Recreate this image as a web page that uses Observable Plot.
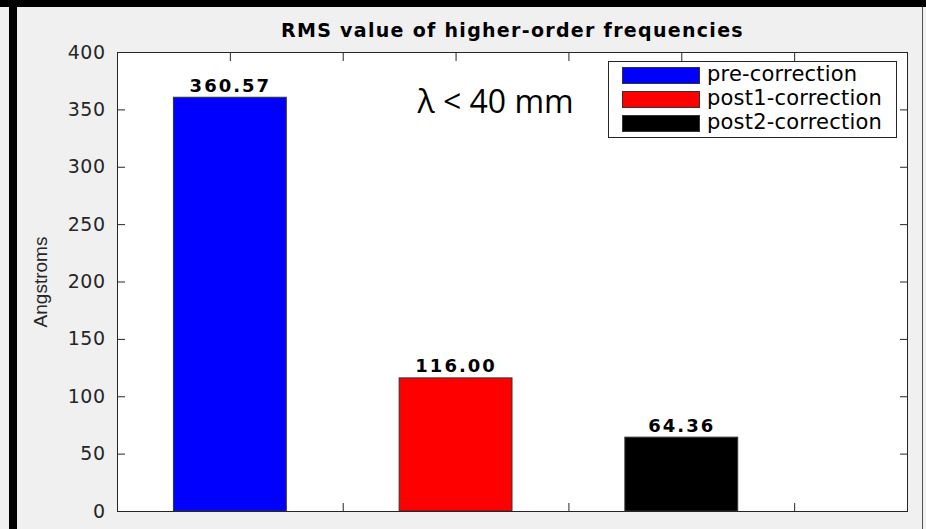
<!DOCTYPE html>
<html>
<head>
<meta charset="utf-8">
<script src="https://cdn.jsdelivr.net/npm/d3@7"></script>
<script src="https://cdn.jsdelivr.net/npm/@observablehq/plot@0.6"></script>
<style>
  html, body { margin: 0; padding: 0; background: #f0f0f0; }
  #wrap { position: relative; width: 926px; height: 529px; overflow: hidden; background: #f0f0f0; }
  #wrap svg { position: absolute; left: 0; top: 0; }
  .bar-top { position: absolute; left: 0; top: 0; width: 926px; height: 7px; background: #000; }
  .bar-left { position: absolute; left: 9px; top: 0; width: 8px; height: 529px; background: #000; }
  .line-right { position: absolute; left: 922px; top: 7px; width: 1px; height: 522px; background: #555; }
  #legend { position: absolute; left: 608px; top: 61px; width: 287px; height: 75px;
            background: #fff; border: 1px solid #262626; }
  #legend .row { position: absolute; left: 0; height: 24px; }
  #legend .sw { position: absolute; left: 13px; top: 0; width: 76px; height: 15px; border: 1px solid #333; }
  #legend .lbl { position: absolute; left: 98px; top: -5px; font-family: "DejaVu Sans", sans-serif;
                 font-size: 21px; color: #000; white-space: nowrap; letter-spacing: 0.2px; }
</style>
</head>
<body>
<div id="wrap"></div>
<script>
// ---- data ----
const categories = ["pre-correction", "post1-correction", "post2-correction"];
const positions = [1, 2, 3];
const values = [360.57, 116.00, 64.36];
const valueLabels = ["360.57", "116.00", "64.36"];
const colors = ["#0000ff", "#ff0000", "#000000"];
const yTicks = [0, 50, 100, 150, 200, 250, 300, 350, 400];
const xTicks = [1, 1.5, 2, 2.5, 3, 3.5];
const titleText = "RMS value of higher-order frequencies";
const yLabel = "Angstroms";
const annotation = "λ < 40 mm";

const rows = categories.map((c, i) => ({
  name: c, x: positions[i], value: values[i], label: valueLabels[i], color: colors[i]
}));
const halfWidth = 0.25;

const axisColor = "#262626";

const plot = Plot.plot({
  width: 926,
  height: 529,
  marginLeft: 117,
  marginRight: 19,
  marginTop: 52,
  marginBottom: 18,
  style: { background: "#f0f0f0", overflow: "visible" },
  x: { type: "linear", domain: [0.5, 4] },
  y: { domain: [0, 400] },
  marks: [
    Plot.frame({ fill: "white", stroke: null }),
    // inward ticks on all four sides
    Plot.axisY(yTicks, { anchor: "left", tickSize: 8, dx: 8, text: null, stroke: axisColor, label: null }),
    Plot.axisY(yTicks, { anchor: "right", tickSize: 8, dx: -8, text: null, stroke: axisColor, label: null }),
    Plot.axisX(xTicks, { anchor: "bottom", tickSize: 8, dy: -8, text: null, stroke: axisColor, label: null }),
    Plot.axisX(xTicks, { anchor: "top", tickSize: 8, dy: 8, text: null, stroke: axisColor, label: null }),
    // y tick labels
    Plot.axisY(yTicks, {
      anchor: "left", tickSize: 0, tickPadding: 12, label: null,
      fill: axisColor, fontSize: 19, fontFamily: "DejaVu Sans", tickFormat: d => String(d)
    }),
    // bars
    Plot.rectY(rows, {
      x1: d => d.x - halfWidth, x2: d => d.x + halfWidth, y1: 0, y2: "value",
      fill: "color", stroke: "#333", strokeWidth: 1
    }),
    // value labels
    Plot.text(rows, {
      x: "x", y: "value", text: "label", lineAnchor: "bottom", dy: -6,
      fontSize: 18, fontWeight: "bold", fontFamily: "DejaVu Sans", fill: "#000"
    }),
    Plot.frame({ stroke: axisColor, strokeWidth: 1 }),
    // title
    Plot.text([titleText], {
      frameAnchor: "top", lineAnchor: "bottom", dy: -16, text: d => d,
      fontSize: 19, fontWeight: "bold", fontFamily: "DejaVu Sans", fill: "#000"
    }),
    // y label
    Plot.text([yLabel], {
      frameAnchor: "left", rotate: -90, dx: -77, text: d => d, textAnchor: "middle", lineAnchor: "middle",
      fontSize: 19, fontFamily: "Liberation Sans", fill: axisColor
    }),
    // annotation
    Plot.text([annotation], {
      frameAnchor: "top-left", textAnchor: "start", lineAnchor: "bottom", dx: 300, dy: 60,
      text: d => d, fontSize: 32, fontFamily: "Open Sans", fill: "#000"
    })
  ]
});

// letter spacing (MATLAB-like wide rendering)
d3.select(plot).selectAll("text").each(function () {
  const t = this.textContent;
  if (t === titleText) this.setAttribute("letter-spacing", "1.3");
  else if (valueLabels.includes(t)) this.setAttribute("letter-spacing", "2");
  else if (/^\d+$/.test(t)) this.setAttribute("letter-spacing", "0.5");
});

const wrap = document.getElementById("wrap");
wrap.appendChild(plot);

// legend (built from the data arrays)
const legend = document.createElement("div");
legend.id = "legend";
rows.forEach((r, i) => {
  const row = document.createElement("div");
  row.className = "row";
  row.style.top = (5 + i * 24) + "px";
  const sw = document.createElement("div");
  sw.className = "sw";
  sw.style.background = r.color;
  const lbl = document.createElement("div");
  lbl.className = "lbl";
  lbl.textContent = r.name;
  row.appendChild(sw);
  row.appendChild(lbl);
  legend.appendChild(row);
});
wrap.appendChild(legend);

// decorative black frame of the slide
["bar-top", "bar-left", "line-right"].forEach(c => {
  const d = document.createElement("div");
  d.className = c;
  wrap.appendChild(d);
});
</script>
</body>
</html>
